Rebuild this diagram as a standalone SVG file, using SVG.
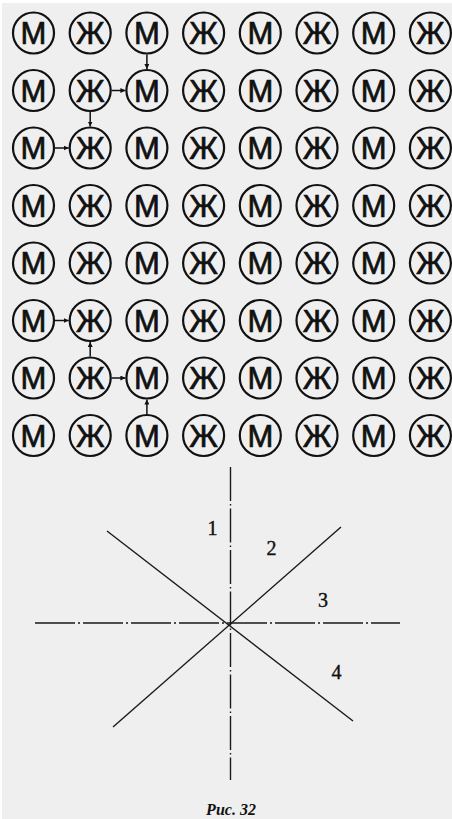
<svg xmlns="http://www.w3.org/2000/svg" width="452" height="819" viewBox="0 0 452 819">
<style>
.ring{fill:none;stroke:#111;stroke-width:2.2}
.lt{font-family:"Liberation Sans",Arial,sans-serif;font-size:31px;fill:#111;stroke:#111;stroke-width:0.7;text-anchor:middle}
.c line{stroke:#111;stroke-width:1.5}
.ax{stroke:#1a1a1a;stroke-width:1.4;fill:none}
.lbl{font-family:"Liberation Serif","Times New Roman",serif;font-size:20px;fill:#111;stroke:#111;stroke-width:0.4;text-anchor:middle}
.cap{font-family:"Liberation Serif","Times New Roman",serif;font-size:16px;font-weight:bold;font-style:italic;fill:#111;text-anchor:middle}
</style>
<defs>
<marker id="ah" viewBox="0 0 6 6" refX="6" refY="3" markerWidth="5" markerHeight="5" markerUnits="userSpaceOnUse" orient="auto"><path d="M0,0 L6,3 L0,6 Z" fill="#111"/></marker>
<g id="m"><circle class="ring" r="20.5"/><text class="lt" y="11">М</text></g>
<g id="z"><circle class="ring" r="20.5"/><text class="lt" y="11">Ж</text></g>
</defs>
<rect width="452" height="819" fill="#fff"/>
<rect x="2" y="3" width="450" height="816" fill="#efefef"/>
<g id="grid">
<g id="r1"><use href="#m" x="33.5" y="33"/><use href="#z" x="90.2" y="33"/><use href="#m" x="146.9" y="33"/><use href="#z" x="203.6" y="33"/><use href="#m" x="260.3" y="33"/><use href="#z" x="317" y="33"/><use href="#m" x="373.7" y="33"/><use href="#z" x="430.4" y="33"/></g>
<g id="r2"><use href="#m" x="33.5" y="90.5"/><use href="#z" x="90.2" y="90.5"/><use href="#m" x="146.9" y="90.5"/><use href="#z" x="203.6" y="90.5"/><use href="#m" x="260.3" y="90.5"/><use href="#z" x="317" y="90.5"/><use href="#m" x="373.7" y="90.5"/><use href="#z" x="430.4" y="90.5"/></g>
<g id="r3"><use href="#m" x="33.5" y="148"/><use href="#z" x="90.2" y="148"/><use href="#m" x="146.9" y="148"/><use href="#z" x="203.6" y="148"/><use href="#m" x="260.3" y="148"/><use href="#z" x="317" y="148"/><use href="#m" x="373.7" y="148"/><use href="#z" x="430.4" y="148"/></g>
<g id="r4"><use href="#m" x="33.5" y="205.5"/><use href="#z" x="90.2" y="205.5"/><use href="#m" x="146.9" y="205.5"/><use href="#z" x="203.6" y="205.5"/><use href="#m" x="260.3" y="205.5"/><use href="#z" x="317" y="205.5"/><use href="#m" x="373.7" y="205.5"/><use href="#z" x="430.4" y="205.5"/></g>
<g id="r5"><use href="#m" x="33.5" y="263"/><use href="#z" x="90.2" y="263"/><use href="#m" x="146.9" y="263"/><use href="#z" x="203.6" y="263"/><use href="#m" x="260.3" y="263"/><use href="#z" x="317" y="263"/><use href="#m" x="373.7" y="263"/><use href="#z" x="430.4" y="263"/></g>
<g id="r6"><use href="#m" x="33.5" y="320.5"/><use href="#z" x="90.2" y="320.5"/><use href="#m" x="146.9" y="320.5"/><use href="#z" x="203.6" y="320.5"/><use href="#m" x="260.3" y="320.5"/><use href="#z" x="317" y="320.5"/><use href="#m" x="373.7" y="320.5"/><use href="#z" x="430.4" y="320.5"/></g>
<g id="r7"><use href="#m" x="33.5" y="378"/><use href="#z" x="90.2" y="378"/><use href="#m" x="146.9" y="378"/><use href="#z" x="203.6" y="378"/><use href="#m" x="260.3" y="378"/><use href="#z" x="317" y="378"/><use href="#m" x="373.7" y="378"/><use href="#z" x="430.4" y="378"/></g>
<g id="r8"><use href="#m" x="33.5" y="435.5"/><use href="#z" x="90.2" y="435.5"/><use href="#m" x="146.9" y="435.5"/><use href="#z" x="203.6" y="435.5"/><use href="#m" x="260.3" y="435.5"/><use href="#z" x="317" y="435.5"/><use href="#m" x="373.7" y="435.5"/><use href="#z" x="430.4" y="435.5"/></g>
</g>
<g id="connectors" class="c">
<line x1="146.9" y1="54.5" x2="146.9" y2="69" marker-end="url(#ah)"/>
<line x1="111.7" y1="90.5" x2="125.4" y2="90.5" marker-end="url(#ah)"/>
<line x1="90.2" y1="112" x2="90.2" y2="126.5" marker-end="url(#ah)"/>
<line x1="55" y1="148" x2="68.7" y2="148" marker-end="url(#ah)"/>
<line x1="55" y1="320.5" x2="68.7" y2="320.5" marker-end="url(#ah)"/>
<line x1="90.2" y1="356.5" x2="90.2" y2="342" marker-end="url(#ah)"/>
<line x1="111.7" y1="378" x2="125.4" y2="378" marker-end="url(#ah)"/>
<line x1="146.9" y1="414" x2="146.9" y2="399.5" marker-end="url(#ah)"/>
</g>
<g id="axes">
<line class="ax" x1="230.5" y1="467" x2="230.5" y2="780" stroke-dasharray="34 3 1.5 3"/>
<line class="ax" x1="35" y1="623" x2="400" y2="623" stroke-dasharray="40 3 2 3"/>
<line class="ax" x1="107" y1="531" x2="353" y2="721" stroke-width="1.1"/>
<line class="ax" x1="341" y1="527" x2="113" y2="727" stroke-width="1.1"/>
</g>
<g id="labels">
<text class="lbl" x="212.5" y="535">1</text>
<text class="lbl" x="271.5" y="555">2</text>
<text class="lbl" x="323" y="607">3</text>
<text class="lbl" x="336.5" y="679">4</text>
<text class="cap" x="231" y="815">Рис. 32</text>
</g>
</svg>
